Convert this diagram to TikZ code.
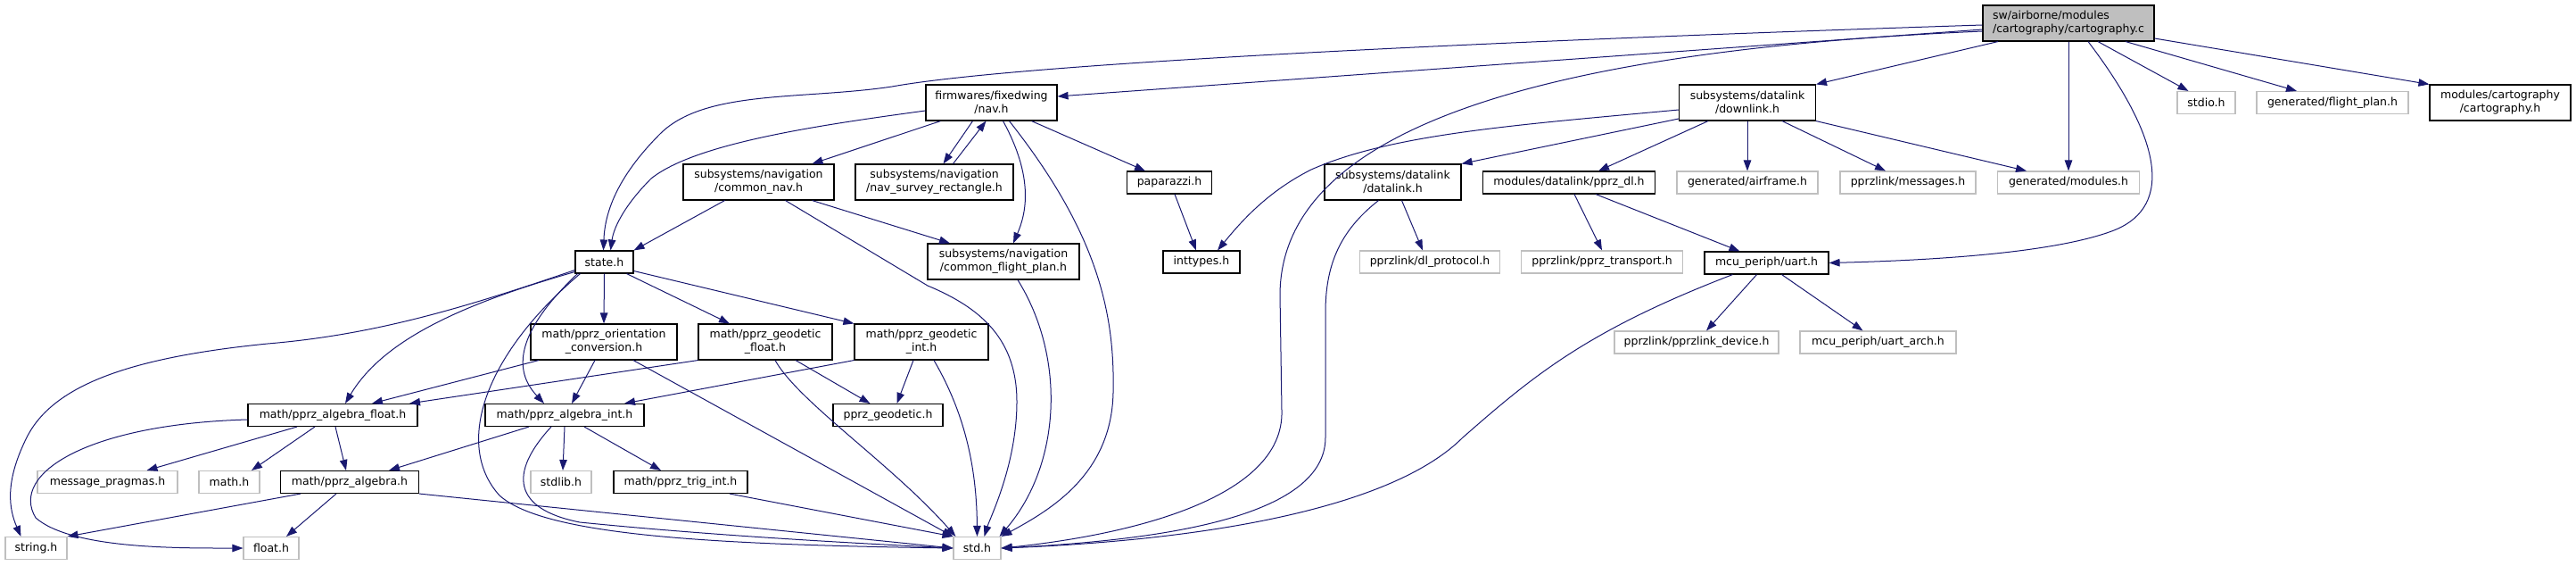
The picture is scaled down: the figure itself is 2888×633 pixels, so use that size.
\documentclass[tikz,border=0pt]{standalone}
\usepackage{fontspec}
\setmainfont{DejaVu Sans}
\usepackage{xcolor}
\usepackage{tikz}
\usetikzlibrary{calc}
\usetikzlibrary{arrows.meta}
\definecolor{edgeblue}{HTML}{191970}
\definecolor{extgray}{HTML}{BFBFBF}

\begin{document}
\begin{tikzpicture}[x=1pt,y=-1pt]
  \tikzset{every node/.style={shape=rectangle,font=\fontsize{12.5}{15}\selectfont,text centered,inner sep=0pt,minimum height=25pt}};
  \tikzset{doc/.style={draw=black,line width=1.1pt},ext/.style={draw=extgray,line width=1.1pt},two/.style={minimum height=40pt,align=center},inc/.style={draw=edgeblue,line width=1pt,-{Triangle[length=12pt,width=8.5pt]}}};
  \useasboundingbox (0,0) rectangle (2888,633);
  \node [doc,fill=extgray,two,align=left,minimum width=192pt] (r) at (2319,26) {sw/airborne/modules\\/cartography/cartography.c};
  \node [doc,two,minimum width=147pt] (nav) at (1111.5,115) {firmwares/fixedwing\\/nav.h};
  \node [doc,two,minimum width=153pt] (dl) at (1959,115) {subsystems/datalink\\/downlink.h};
  \node [ext,minimum width=65pt] (sio) at (2473.5,115) {stdio.h};
  \node [ext,minimum width=170pt] (fp) at (2615,115) {generated/flight\_plan.h};
  \node [doc,two,minimum width=158pt] (ch) at (2803,115) {modules/cartography\\/cartography.h};
  \node [doc,two,minimum width=169pt] (cn) at (850.5,204) {subsystems/navigation\\/common\_nav.h};
  \node [doc,two,minimum width=177pt] (nsr) at (1047.5,204) {subsystems/navigation\\/nav\_survey\_rectangle.h};
  \node [doc,minimum width=95pt] (pap) at (1311,204.5) {paparazzi.h};
  \node [doc,two,minimum width=153pt] (dlk) at (1561.5,204) {subsystems/datalink\\/datalink.h};
  \node [doc,minimum width=193pt] (pdl) at (1759,204.5) {modules/datalink/pprz\_dl.h};
  \node [ext,minimum width=158pt] (af) at (1959,204.5) {generated/airframe.h};
  \node [ext,minimum width=152pt] (msg) at (2139,204.5) {pprzlink/messages.h};
  \node [ext,minimum width=159pt] (mod) at (2319,204.5) {generated/modules.h};
  \node [doc,minimum width=65pt] (st) at (677.5,293.5) {state.h};
  \node [doc,two,minimum width=170pt] (cfp) at (1125,293) {subsystems/navigation\\/common\_flight\_plan.h};
  \node [doc,minimum width=86pt] (it) at (1347,293.5) {inttypes.h};
  \node [ext,minimum width=157pt] (dlp) at (1603,293.5) {pprzlink/dl\_protocol.h};
  \node [ext,minimum width=181pt] (ptr) at (1796,293.5) {pprzlink/pprz\_transport.h};
  \node [doc,minimum width=139pt] (ua) at (1980.5,294.5) {mcu\_periph/uart.h};
  \node [doc,two,minimum width=164pt] (oc) at (677,383) {math/pprz\_orientation\\\_conversion.h};
  \node [doc,two,minimum width=150pt] (gf) at (858,383) {math/pprz\_geodetic\\\_float.h};
  \node [doc,two,minimum width=150pt] (gi) at (1033,383) {math/pprz\_geodetic\\\_int.h};
  \node [ext,minimum width=184pt] (pld) at (1902,383.5) {pprzlink/pprzlink\_device.h};
  \node [ext,minimum width=175pt] (uaa) at (2105.5,383.5) {mcu\_periph/uart\_arch.h};
  \node [doc,minimum width=190pt] (alf) at (373,465) {math/pprz\_algebra\_float.h};
  \node [doc,minimum width=178pt] (ali) at (633,465) {math/pprz\_algebra\_int.h};
  \node [doc,minimum width=123pt] (pg) at (995.5,465) {pprz\_geodetic.h};
  \node [ext,minimum width=157pt] (mp) at (120.5,540) {message\_pragmas.h};
  \node [ext,minimum width=68pt] (mh) at (257,540) {math.h};
  \node [doc,minimum width=155pt] (pa) at (392,540) {math/pprz\_algebra.h};
  \node [ext,minimum width=68pt] (sl) at (629,540) {stdlib.h};
  \node [doc,minimum width=150pt] (ti) at (763,540) {math/pprz\_trig\_int.h};
  \node [ext,minimum width=69pt] (str) at (40.5,614) {string.h};
  \node [ext,minimum width=62pt] (fl) at (304,614) {float.h};
  \node [ext,minimum width=53pt] (sd) at (1095.5,614) {std.h};
  \draw[inc] ([yshift=-2pt]r.west) .. controls (1700,45) and (1150,70) .. (1000,97) .. controls (900,112) and (790,100) .. (740,150) .. controls (690,200) and (678,240) .. ([xshift=-1pt]st.north);
  \draw[inc] ([yshift=-7pt]r.west) -- ([yshift=7pt]nav.east);
  \draw[inc] ([yshift=-9pt]r.west) .. controls (1650,60) and (1436,170) .. (1435,330) -- (1437,460) .. controls (1440,560) and (1260,600) .. (sd.east);
  \draw[inc] ([xshift=-79pt]r.south) -- (dl.north east);
  \draw[inc] (r.south) -- (mod.north);
  \draw[inc] ([xshift=22pt]r.south) .. controls (2420,150) and (2440,230) .. (2370,258) .. controls (2300,285) and (2150,292) .. (ua.east);
  \draw[inc] ([xshift=33pt]r.south) -- ([xshift=-20pt]sio.north);
  \draw[inc] ([xshift=64pt]r.south) -- ([xshift=-40pt]fp.north);
  \draw[inc] ([yshift=-17pt]r.east) -- (ch.north west);
  \draw[inc] ([yshift=-9pt]nav.west) .. controls (920,140) and (780,160) .. (730,200) .. controls (700,230) and (688,255) .. ([xshift=7pt]st.north);
  \draw[inc] ([xshift=-57pt]nav.south) -- ([xshift=60pt]cn.north);
  \draw[inc] ([xshift=-21pt]nav.south) -- ([xshift=10pt]nsr.north);
  \draw[inc] ([xshift=21pt]nsr.north) -- ([xshift=-6pt]nav.south);
  \draw[inc] ([xshift=13pt]nav.south) .. controls (1160,200) and (1150,240) .. ([xshift=11pt]cfp.north);
  \draw[inc] ([xshift=20pt]nav.south) .. controls (1230,260) and (1250,350) .. (1248,440) .. controls (1246,530) and (1180,570) .. (sd.north east);
  \draw[inc] ([xshift=45pt]nav.south) -- ([xshift=-27pt]pap.north);
  \draw[inc] ([xshift=-38pt]cn.south) -- (st.north east);
  \draw[inc] ([xshift=60pt]cn.south) -- ([xshift=-60pt]cfp.north);
  \draw[inc] ([xshift=30pt]cn.south) -- (1040,320) .. controls (1100,345) and (1140,380) .. (1140,450) .. controls (1140,520) and (1110,580) .. ([xshift=8pt]sd.north);
  \draw[inc] ([xshift=16pt]cfp.south) .. controls (1195,400) and (1190,520) .. ([xshift=-2pt]sd.north east);
  \draw[inc] ([xshift=6pt]pap.south) -- ([xshift=-6pt]it.north);
  \draw[inc] ([yshift=-8pt]dl.west) .. controls (1700,140) and (1560,150) .. (1470,190) .. controls (1420,215) and (1390,250) .. ([xshift=18pt]it.north);
  \draw[inc] ([yshift=-18pt]dl.west) -- (dlk.north east);
  \draw[inc] ([xshift=-44pt]dl.south) -- ([xshift=33pt]pdl.north);
  \draw[inc] (dl.south) -- (af.north);
  \draw[inc] ([xshift=39pt]dl.south) -- ([xshift=-25pt]msg.north);
  \draw[inc] (dl.south east) -- ([xshift=-47pt]mod.north);
  \draw[inc] ([xshift=10pt]dlk.south) -- ([xshift=-8pt]dlp.north);
  \draw[inc] ([xshift=-16pt]dlk.south) .. controls (1500,260) and (1486,300) .. (1486,350) -- (1486,490) .. controls (1486,580) and (1300,605) .. (sd.east);
  \draw[inc] ([xshift=6pt]pdl.south) -- (ptr.north);
  \draw[inc] ([xshift=30pt]pdl.south) -- ([xshift=-30pt]ua.north);
  \draw[inc] ([xshift=-11pt]ua.south) -- ([xshift=11pt]pld.north);
  \draw[inc] ([xshift=17pt]ua.south) -- ([xshift=-17pt]uaa.north);
  \draw[inc] ([xshift=-38pt]ua.south) .. controls (1780,370) and (1720,420) .. (1640,490) .. controls (1560,570) and (1350,605) .. (sd.east);
  \draw[inc] ([yshift=-9pt]st.west) .. controls (520,345) and (420,375) .. (300,385) .. controls (150,400) and (60,430) .. (30,490) .. controls (5,540) and (10,570) .. ([xshift=-17pt]str.north);
  \draw[inc] ([yshift=-11pt]st.west) .. controls (520,340) and (430,380) .. ([xshift=14pt]alf.north);
  \draw[inc] ([xshift=-30pt]st.south) .. controls (570,380) and (580,420) .. ([xshift=-23pt]ali.north);
  \draw[inc] ([xshift=-27pt]st.south) .. controls (540,400) and (510,500) .. (560,555) .. controls (610,600) and (800,610) .. (sd.west);
  \draw[inc] (st.south) -- (oc.north);
  \draw[inc] ([xshift=-8pt]st.south east) -- ([xshift=-40pt]gf.north);
  \draw[inc] ([yshift=-10pt]st.east) -- (gi.north west);
  \draw[inc] ([xshift=-73pt]oc.south) -- ([xshift=44pt]alf.north);
  \draw[inc] ([xshift=-10pt]oc.south) -- ([xshift=8pt]ali.north);
  \draw[inc] ([xshift=33pt]oc.south) -- (sd.north west);
  \draw[inc] (gf.south west) -- ([xshift=86pt]alf.north);
  \draw[inc] ([xshift=34pt]gf.south) -- ([xshift=-20pt]pg.north);
  \draw[inc] ([xshift=11pt]gf.south) .. controls (895,450) and (1000,520) .. ([xshift=3pt]sd.north west);
  \draw[inc] (gi.south west) -- ([xshift=67pt]ali.north);
  \draw[inc] ([xshift=-9pt]gi.south) -- ([xshift=10pt]pg.north);
  \draw[inc] ([xshift=14pt]gi.south) .. controls (1080,460) and (1095,520) .. (sd.north);
  \draw[inc] ([xshift=-40pt]alf.south) -- ([xshift=44pt]mp.north);
  \draw[inc] ([xshift=-20pt]alf.south) -- ([xshift=25pt]mh.north);
  \draw[inc] ([xshift=3pt]alf.south) -- ([xshift=-4pt]pa.north);
  \draw[inc] ([yshift=-5pt]alf.west) .. controls (100,475) and (10,530) .. (40,580) .. controls (80,615) and (200,614) .. (fl.west);
  \draw[inc] ([xshift=-40pt]ali.south) -- ([xshift=44pt]pa.north);
  \draw[inc] (ali.south) -- ([xshift=2pt]sl.north);
  \draw[inc] ([xshift=22pt]ali.south) -- ([xshift=-22pt]ti.north);
  \draw[inc] ([xshift=-15pt]ali.south) .. controls (570,530) and (575,570) .. (650,585) .. controls (800,600) and (950,608) .. (sd.west);
  \draw[inc] ([xshift=-55pt]pa.south) -- (str.north east);
  \draw[inc] ([xshift=-15pt]pa.south) -- ([xshift=17pt]fl.north);
  \draw[inc] (pa.south east) -- (sd.west);
  \draw[inc] ([xshift=55pt]ti.south) -- (sd.north west);
\end{tikzpicture}
\end{document}
